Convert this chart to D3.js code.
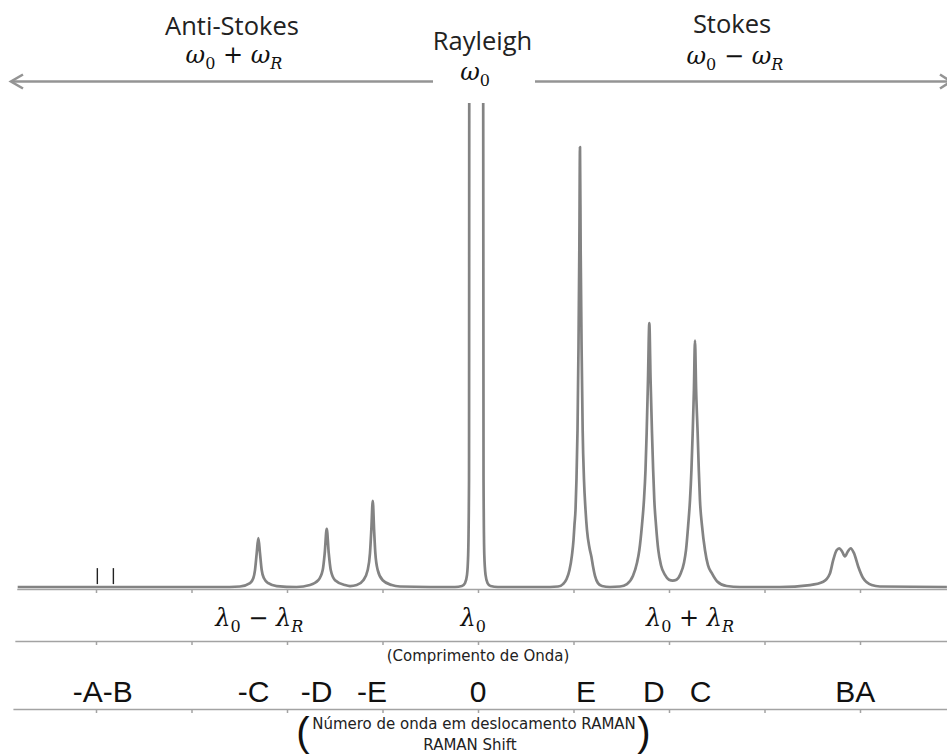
<!DOCTYPE html>
<meta charset="utf-8">
<style>
body { margin: 0; background: #fff; }
svg { display: block; }
.axis path, .axis line { stroke: #a3a3a3; stroke-width: 1.5px; }
.top { font: 25.5px "Open Sans", sans-serif; fill: #222; text-anchor: middle; }
.math { font: 24px "DejaVu Serif", serif; fill: #111; text-anchor: middle; }
.math .v { font-style: italic; }
.small { font: 15px "DejaVu Sans", sans-serif; fill: #222; text-anchor: middle; }
.big { font: 30px "Liberation Sans", Arial, sans-serif; fill: #111; text-anchor: middle; }
.paren { font: 40px "Liberation Sans", Arial, sans-serif; fill: #111; text-anchor: middle; }
</style>
<svg width="947" height="755"></svg>
<script src="https://cdnjs.cloudflare.com/ajax/libs/d3/7.8.5/d3.min.js"></script>
<script>

// raman shift (arbitrary units, tick every 100) vs intensity (0-100, Rayleigh clipped)
var spectrum = [
  [-482, 0], [-260, 0],
  // -C
  [-249.2, 0.1], [-238.7, 0.8], [-235.3, 1.8], [-233.5, 3.5], [-231.7, 7.0], [-230.0, 10.1],
  [-228.3, 7.0], [-226.5, 3.5], [-224.1, 1.8], [-219.6, 0.8], [-210.8, 0.2], [-190, 0],
  // -D
  [-175.9, 0.4], [-167.2, 1.4], [-162.6, 3.5], [-160.5, 7.0], [-158.4, 12.0],
  [-156.3, 7.0], [-154.2, 3.5], [-149.7, 1.4], [-139.3, 0.4], [-134.0, 0.2],
  // -E
  [-127.0, 0.4], [-120.1, 1.4], [-115.5, 3.5], [-113.1, 7.0], [-111.7, 11.8], [-110.2, 17.8],
  [-108.8, 11.8], [-107.5, 7.0], [-105.0, 3.5], [-99.8, 1.4], [-90.4, 0.4], [-81.7, 0.1], [-50, 0],
  // Rayleigh (top runs off the chart)
  [-24.1, 0], [-16.8, 0.2], [-13.6, 0.8], [-11.5, 2.5], [-10.3, 6.6], [-9.4, 22.1], [-9.1, 110],
  [5.4, 110], [5.8, 22.1], [6.6, 6.6], [7.9, 2.5], [10.0, 0.8], [13.1, 0.2], [20.9, 0], [60, 0],
  // E
  [75.4, 0], [83.8, 0.1], [89.0, 0.6], [92.9, 1.7], [95.8, 3.5], [98.4, 6.6], [100.0, 9.7],
  [101.0, 12.8], [102.1, 15.9], [103.1, 22.1], [104.2, 32.4], [105.2, 49.0], [106.1, 69.6],
  [106.8, 90.9], [107.5, 69.6], [108.5, 49.0], [109.6, 32.4], [111.0, 22.1], [112.6, 15.9],
  [114.1, 11.8], [116.7, 8.1], [118.8, 6.2], [120.4, 4.3], [122.5, 2.3], [125.6, 0.8],
  [129.8, 0.2], [138.2, 0],
  // D
  [148.7, 0.1], [156.0, 0.6], [162.3, 2.3], [166.5, 5.0], [168.9, 7.6], [171.7, 12.8],
  [173.8, 18.0], [175.4, 24.2], [176.6, 31.8], [178.0, 42.8], [179.4, 54.5], [180.7, 42.8],
  [182.2, 31.8], [183.4, 24.2], [184.6, 18.0], [186.4, 12.8], [188.8, 7.6], [191.6, 4.5],
  [195.8, 2.5], [200.0, 1.5], [203.9, 1.3], [207.8, 1.5], [212.0, 2.7],
  // C
  [215.7, 5.0], [217.8, 7.6], [220.1, 12.8], [222.0, 18.0], [223.5, 24.2], [224.8, 31.8],
  [226.1, 40.7], [227.2, 50.9], [228.4, 40.7], [230.0, 31.8], [231.2, 24.2], [232.4, 18.0],
  [234.5, 12.8], [237.7, 7.6], [240.8, 4.5], [244.7, 2.9], [250.2, 1.2], [260.4, 0.2], [274.3, 0],
  // B A doublet
  [316.2, 0], [347.6, 0.4], [361.5, 1.1], [368.5, 2.8], [372.0, 5.6], [375.5, 7.6], [378.3, 8.0],
  [381.1, 7.4], [384.2, 6.3], [387.4, 7.4], [390.2, 8.0], [393.7, 7.0], [398.2, 4.2],
  [403.4, 1.8], [412.2, 0.4], [420.9, 0.1], [491, 0]
];

// the -A / -B lines are only short marks
var smallMarks = [-398.6, -381.8];
var smallMarkRange = [0.6, 3.9];

var tickValues = [-400, -300, -200, -100, 0, 100, 200, 300, 400];

var ramanLabels = ["-A-B", "-C", "-D", "-E", "0", "E", "D", "C", "BA"];
var ramanPos = [-393, -235, -169, -111, 0, 113, 184, 233, 395];

var waveLabels = [["λ", "0", " − ", "λ", "R"], ["λ", "0"], ["λ", "0", " + ", "λ", "R"]];
var wavePos = [-229, -5, 222];

var regionNames = ["Anti-Stokes", "Rayleigh", "Stokes"];
var regionPos = [-257.6, 4.7, 266];
var regionFreq = [["ω", "0", " + ", "ω", "R"], ["ω", "0"], ["ω", "0", " − ", "ω", "R"]];
var regionFreqPos = [-255.5, -3, 269];

var svg = d3.select("svg"),
    width = +svg.attr("width"),
    height = +svg.attr("height");

var x = d3.scaleLinear().domain([-400, 400]).range([96, 860]);
var y = d3.scaleLinear().domain([0, 100]).range([587, 103]);

svg.append("rect").attr("width", width).attr("height", height).attr("fill", "#fff");

// three parallel axes sharing the same ticks
var axisRows = [[589, -483], [641, -485], [709, -487]];
axisRows.forEach(function(r) {
  var s = x.copy().domain([r[1], 493]).range([x(r[1]), x(493)]);
  svg.append("g")
      .attr("class", "axis")
      .attr("transform", "translate(0," + r[0] + ")")
      .call(d3.axisBottom(s).tickValues(tickValues).tickSize(4).tickSizeOuter(0).tickFormat(""));
});

svg.append("clipPath")
    .attr("id", "clip")
  .append("rect")
    .attr("x", 0).attr("y", y(100))
    .attr("width", width).attr("height", height - y(100));

var line = d3.line()
    .x(function(d) { return x(d[0]); })
    .y(function(d) { return y(d[1]); })
    .curve(d3.curveMonotoneX);

svg.append("path")
    .datum(spectrum)
    .attr("clip-path", "url(#clip)")
    .attr("fill", "none")
    .attr("stroke", "#838383")
    .attr("stroke-width", 2.7)
    .attr("stroke-linejoin", "round")
    .attr("d", line);

svg.selectAll(".mark")
  .data(smallMarks)
  .enter().append("line")
    .attr("class", "mark")
    .attr("x1", function(d) { return x(d); })
    .attr("x2", function(d) { return x(d); })
    .attr("y1", y(smallMarkRange[0]))
    .attr("y2", y(smallMarkRange[1]))
    .attr("stroke", "#222")
    .attr("stroke-width", 1.4);

// arrows
var arrowY = 81.5;
var arrowCol = "#949494";
svg.append("line").attr("x1", 11).attr("x2", 433).attr("y1", arrowY).attr("y2", arrowY)
    .attr("stroke", arrowCol).attr("stroke-width", 2.4);
svg.append("path").attr("d", "M23," + (arrowY - 7) + "L11," + arrowY + "L23," + (arrowY + 7))
    .attr("fill", "none").attr("stroke", arrowCol).attr("stroke-width", 2.6);
svg.append("line").attr("x1", 535).attr("x2", 950).attr("y1", arrowY).attr("y2", arrowY)
    .attr("stroke", arrowCol).attr("stroke-width", 2.4);
svg.append("path").attr("d", "M940," + (arrowY - 7) + "L951," + arrowY + "L940," + (arrowY + 7))
    .attr("fill", "none").attr("stroke", arrowCol).attr("stroke-width", 2.6);

// symbol, subscript, operator, symbol, subscript
function mathText(sel, parts) {
  parts.forEach(function(p, i) {
    var t = sel.append("tspan").text(p);
    if (p === "ω" || p === "λ") t.attr("class", "v");
    if (i === 1 || i === 4) {
      t.attr("font-size", "16px").attr("dy", 6);
      if (p === "R") t.attr("class", "v");
    } else if (i === 2) {
      t.attr("dy", -6);
    }
  });
}

svg.selectAll(".region")
  .data(regionNames)
  .enter().append("text")
    .attr("class", "top region")
    .attr("x", function(d, i) { return x(regionPos[i]); })
    .attr("y", function(d, i) { return [35, 50, 33][i]; })
    .text(function(d) { return d; });

regionFreq.forEach(function(parts, i) {
  var t = svg.append("text")
      .attr("class", "math")
      .attr("x", x(regionFreqPos[i]))
      .attr("y", [63, 80, 64][i]);
  mathText(t, parts);
});

waveLabels.forEach(function(parts, i) {
  var t = svg.append("text")
      .attr("class", "math")
      .attr("x", x(wavePos[i]))
      .attr("y", 626);
  mathText(t, parts);
});

svg.append("text")
    .attr("class", "small")
    .attr("x", x(0))
    .attr("y", 661)
    .text("(Comprimento de Onda)");

svg.selectAll(".big")
  .data(ramanLabels)
  .enter().append("text")
    .attr("class", "big")
    .attr("x", function(d, i) { return x(ramanPos[i]); })
    .attr("y", 702)
    .text(function(d) { return d; });

svg.append("text").attr("class", "small").attr("x", 474).attr("y", 729)
    .text("Número de onda em deslocamento RAMAN");
svg.append("text").attr("class", "small").attr("x", 470).attr("y", 750)
    .text("RAMAN Shift");
svg.append("text").attr("class", "paren").attr("x", 303).attr("y", 746).text("(");
svg.append("text").attr("class", "paren").attr("x", 644).attr("y", 746).text(")");

</script>
